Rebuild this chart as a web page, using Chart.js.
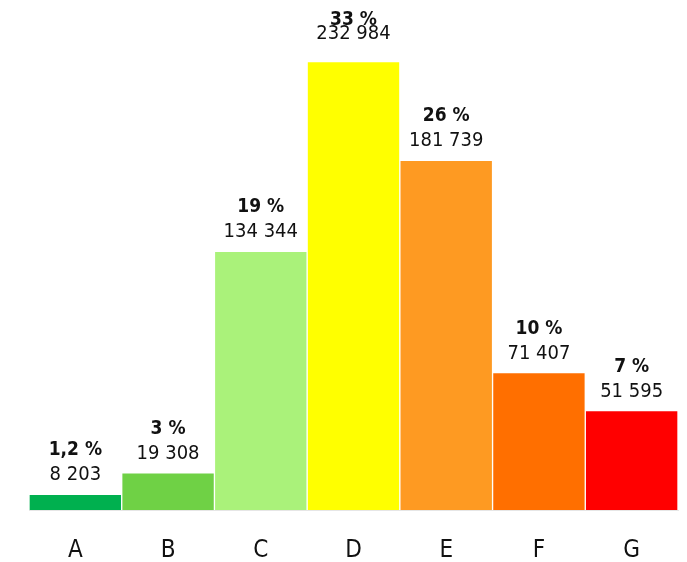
<!DOCTYPE html>
<html>
<head>
<meta charset="utf-8">
<script src="https://cdn.jsdelivr.net/npm/chart.js@4/dist/chart.umd.min.js"></script>
<style>
  html, body { margin: 0; padding: 0; background: #fff; }
  #wrap { width: 687px; height: 562px; }
</style>
</head>
<body>
<div id="wrap"><canvas id="chart"></canvas></div>
<script>
const categories = ['A', 'B', 'C', 'D', 'E', 'F', 'G'];
const values = [8203, 19308, 134344, 232984, 181739, 71407, 51595];
const percents = ['1,2 %', '3 %', '19 %', '33 %', '26 %', '10 %', '7 %'];
const colors = ['#00b04f', '#6fd145', '#aaf27a', '#ffff00', '#fe9a22', '#ff6f00', '#ff0000'];

const FONT = '"DejaVu Sans Condensed", "DejaVu Sans", sans-serif';

// draws the two-line label (bold percent + value) above every bar
const barLabels = {
  id: 'barLabels',
  afterDatasetsDraw(chart) {
    const ctx = chart.ctx;
    const meta = chart.getDatasetMeta(0);
    ctx.save();
    ctx.fillStyle = '#111';
    ctx.textAlign = 'center';
    ctx.textBaseline = 'alphabetic';
    meta.data.forEach((bar, i) => {
      let pctY = bar.y - 39;
      let valY = bar.y - 14;
      if (pctY < 25) {   // not enough room above: stack tightly at the top
        pctY = 25;
        valY = pctY + 14;
      }
      ctx.font = 'bold 19px ' + FONT;
      ctx.fillText(percents[i], bar.x, pctY);
      ctx.font = '20px ' + FONT;
      ctx.fillText(values[i].toLocaleString('fr-FR').replace(/\s/g, ' '), bar.x, valY);
    });
    ctx.restore();
  }
};

new Chart(document.getElementById('chart').getContext('2d'), {
  type: 'bar',
  data: {
    labels: categories,
    datasets: [{
      data: values,
      backgroundColor: colors,
      borderColor: '#ffffff',
      borderWidth: 1,
      barPercentage: 1,
      categoryPercentage: 1
    }]
  },
  options: {
    responsive: true,
    maintainAspectRatio: false,
    animation: false,
    layout: { padding: { left: 29, right: 9, top: 0, bottom: -30 } },
    scales: {
      y: {
        display: false,
        beginAtZero: true,
        max: 265000
      },
      x: {
        grid: { display: false, drawTicks: false },
        border: { display: true, color: '#e6e6e6', width: 1 },
        ticks: {
          color: '#111',
          padding: 29,
          font: { family: FONT, size: 24, lineHeight: 1 }
        }
      }
    },
    plugins: {
      legend: { display: false },
      tooltip: { enabled: false }
    }
  },
  plugins: [barLabels]
});
</script>
</body>
</html>
